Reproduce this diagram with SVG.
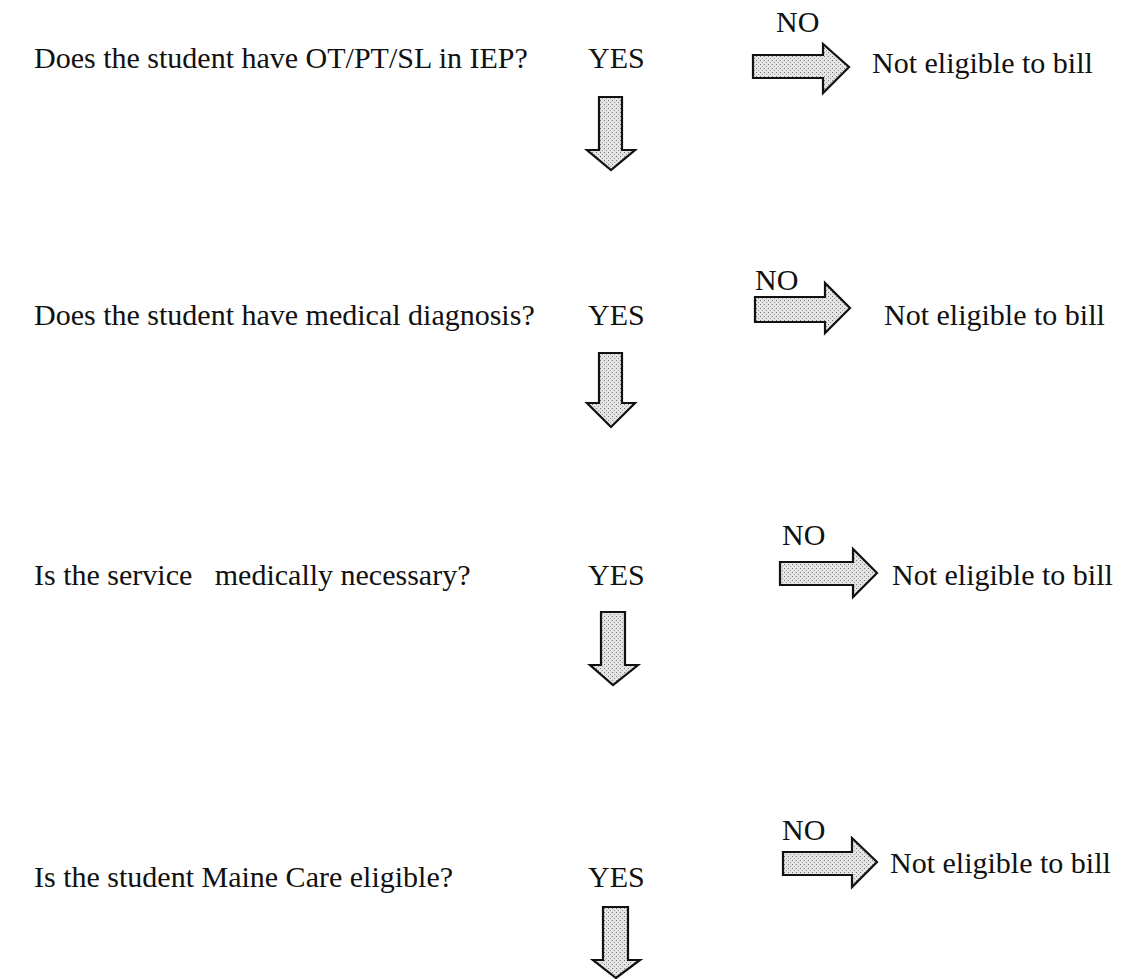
<svg xmlns="http://www.w3.org/2000/svg" width="1132" height="979" viewBox="0 0 1132 979">
<defs>
<pattern id="stip" width="4" height="4" patternUnits="userSpaceOnUse">
<rect width="4" height="4" fill="#e4e4e4"/>
<rect x="0" y="0" width="1" height="1" fill="#777"/>
<rect x="2" y="2" width="1" height="1" fill="#999"/>
</pattern>
</defs>
<style>
text{font-family:"Liberation Serif","Times New Roman",serif;font-size:30px;fill:#111}
.arr{fill:url(#stip);stroke:#111;stroke-width:2.2;stroke-linejoin:miter}
</style>
<rect width="1132" height="979" fill="#fff"/>
<g id="q1">
<text x="34" y="68">Does the student have OT/PT/SL in IEP?</text>
<text x="588" y="68">YES</text>
</g>
<g id="q2">
<text x="34" y="325">Does the student have medical diagnosis?</text>
<text x="588" y="325">YES</text>
</g>
<g id="q3">
<text x="34" y="585" xml:space="preserve" style="white-space:pre">Is the service   medically necessary?</text>
<text x="588" y="585">YES</text>
</g>
<g id="q4">
<text x="34" y="887">Is the student Maine Care eligible?</text>
<text x="588" y="887">YES</text>
</g>
<g id="n1"><text x="872" y="73">Not eligible to bill</text></g>
<g id="n2"><text x="884" y="325">Not eligible to bill</text></g>
<g id="n3"><text x="892" y="585">Not eligible to bill</text></g>
<g id="n4"><text x="890" y="873">Not eligible to bill</text></g>
<g id="connectors">
<path class="arr" d="M753,55 L823,55 L823,44 L849,67 L823,93 L823,78 L753,78 Z"/>
<path class="arr" d="M755,297 L825,297 L825,283 L850,308 L825,333 L825,322 L755,322 Z"/>
<path class="arr" d="M780,562 L853,562 L853,549 L877,573 L853,597 L853,585 L780,585 Z"/>
<path class="arr" d="M783,852 L852,852 L852,838 L877,862 L852,887 L852,875 L783,875 Z"/>
<path class="arr" d="M599,97 L622,97 L622,150 L635,150 L611,170 L587,150 L599,150 Z"/>
<path class="arr" d="M599,353 L622,353 L622,403 L635,403 L611,427 L587,403 L599,403 Z"/>
<path class="arr" d="M601,612 L625,612 L625,665 L638,665 L613,685 L590,665 L601,665 Z"/>
<path class="arr" d="M603,907 L628,907 L628,960 L640,960 L616,978 L593,960 L603,960 Z"/>
<text x="776" y="32">NO</text>
<text x="755" y="290">NO</text>
<text x="782" y="545">NO</text>
<text x="782" y="840">NO</text>
</g>
</svg>
